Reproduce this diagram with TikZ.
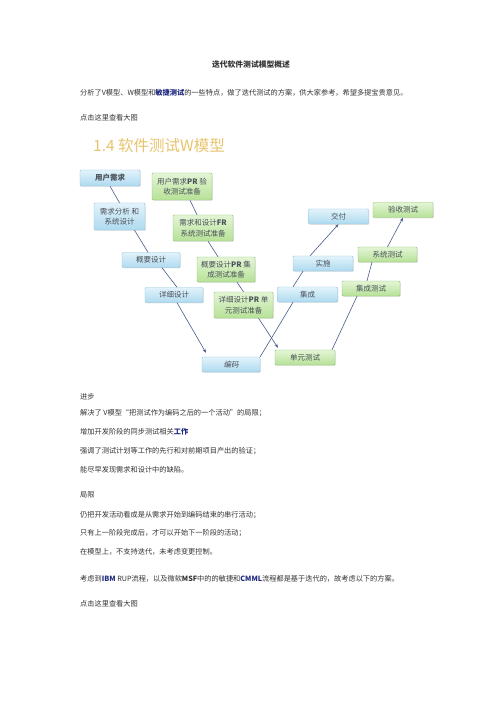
\documentclass[tikz,border=0pt]{standalone}
\usepackage{fontspec}
\newfontfamily\cjk{Noto Sans CJK SC}
\newfontfamily\cjkslant[FakeSlant=0.2]{Noto Sans CJK SC}
\usetikzlibrary{arrows.meta,shadows}
\definecolor{linec}{HTML}{4A5C8C}
\definecolor{navyc}{HTML}{1F2A80}
\definecolor{goldc}{HTML}{E8C46E}
\definecolor{bluetop}{HTML}{E2F3FB}
\definecolor{bluebot}{HTML}{AEDAEF}
\definecolor{blueedge}{HTML}{8CC4DF}
\definecolor{greentop}{HTML}{E4F5D6}
\definecolor{greenbot}{HTML}{B6E197}
\definecolor{greenedge}{HTML}{8BC56A}
\definecolor{boxtext}{HTML}{4A5058}

\begin{document}
\begin{tikzpicture}[
    x=1pt, y=-1pt,
    bbox/.style={draw=blueedge, rounded corners=1pt, minimum width=58pt, minimum height=15pt, inner sep=0.5pt, align=center,
        top color=bluetop, bottom color=bluebot, text=boxtext, font={\cjk\fontsize{7.5}{10.5}\selectfont},
        drop shadow={opacity=0.2, shadow xshift=0.8pt, shadow yshift=-0.8pt}},
    gbox/.style={bbox, draw=greenedge, top color=greentop, bottom color=greenbot},
    ln/.style={draw=linec, line width=0.6pt},
    arr/.style={ln, -{Stealth[length=4pt, width=3pt]}},
    txt/.style={anchor=west, inner sep=0pt, text=black!80, font={\cjk\fontsize{7.2}{9}\selectfont}}
]
\fill[white] (0,0) rectangle (500,708);

% page text, top
\node[txt, anchor=center, font={\cjk\bfseries\fontsize{7.8}{9}\selectfont}] (title) at (251,65) {迭代软件测试模型概述};
\node[txt] (intro) at (80,93) {分析了V模型、W模型和\textcolor{navyc}{\textbf{敏捷测试}}的一些特点，做了迭代测试的方案，供大家参考，希望多提宝贵意见。};
\node[txt] (link1) at (80,118) {点击这里查看大图};
\node[txt, text=goldc, font={\cjk\fontsize{15.5}{17}\selectfont}] (head) at (93,146) {1.4 软件测试W模型};

% development side
\node[bbox, minimum width=60pt, minimum height=16pt] (yhxq) at (110,178) {\textbf{用户需求}};
\node[bbox, minimum width=51pt, minimum height=27pt] (xqfx) at (119.5,216.5) {需求分析\ 和\\系统设计};
\node[bbox] (gysj) at (151,260) {概要设计};
\node[bbox] (xxsj) at (174,295) {详细设计};
\node[bbox] (bm) at (231,364.5) {\cjkslant 编码};
\node[bbox, minimum width=60pt] (jc) at (307.5,294.5) {集成};
\node[bbox, minimum width=60pt] (ss) at (323,263.5) {实施};
\node[bbox, minimum width=60pt] (jf) at (338.5,216.5) {交付};

% test side
\node[gbox, minimum width=60pt, minimum height=27pt] (yszb) at (182,186.5) {用户需求\textbf{PR} 验\\收测试准备};
\node[gbox, minimum width=60pt, minimum height=26pt] (xtzb) at (203,228) {需求和设计\textbf{FR}\\系统测试准备};
\node[gbox, minimum height=25pt] (jczb) at (226,269.5) {概要设计\textbf{PR} 集\\成测试准备};
\node[gbox, minimum width=59pt, minimum height=26pt] (dyzb) at (243.5,305) {详细设计\textbf{PR} 单\\元测试准备};
\node[gbox, minimum width=60pt] (dycs) at (305,357.5) {单元测试};
\node[gbox] (jccs) at (371,288.5) {集成测试};
\node[gbox, minimum width=59pt] (xtcs) at (387.5,254.5) {系统测试};
\node[gbox, minimum width=60pt] (yscs) at (403,210) {验收测试};

% left chains
\draw[ln] (yhxq.south) -- (xqfx.north);
\draw[ln] ([xshift=15pt]xqfx.south) -- ([xshift=-3pt]gysj.north);
\draw[ln] ([xshift=11pt]gysj.south) -- ([xshift=3pt]xxsj.north);
\draw[arr] ([xshift=3pt]xxsj.south) -- ([xshift=-25pt,yshift=4pt]bm.north);
\draw[ln] ([xshift=8pt]yszb.south) -- ([xshift=-6pt]xtzb.north);
\draw[ln] ([xshift=5pt]xtzb.south) -- ([xshift=-8pt]jczb.north);
\draw[ln] ([xshift=11pt]jczb.south) -- (dyzb.north);
\draw[arr] ([xshift=15pt]dyzb.south) -- ([xshift=-27pt,yshift=2pt]dycs.north);

% right chains
\draw[ln] (bm.north east) -- ([xshift=-14.5pt]jc.south);
\draw[ln] ([xshift=-14.5pt]jc.north) -- ([xshift=-20pt]ss.south);
\draw[arr] ([xshift=-13pt]ss.north) -- (jf.south);
\draw[ln] ([xshift=27pt]dycs.north) -- ([xshift=-14pt]jccs.south);
\draw[ln] ([xshift=-4pt]jccs.north) -- ([xshift=-15.5pt]xtcs.south);
\draw[arr] (xtcs.north) -- (yscs.south);

% page text, bottom
\node[txt] (gain) at (80,397) {进步};
\node[txt] (gain1) at (80,413) {解决了 V模型“把测试作为编码之后的一个活动”的局限；};
\node[txt] (gain2) at (80,432) {增加开发阶段的同步测试相关\textcolor{navyc}{\textbf{工作}}};
\node[txt] (gain3) at (80,451) {强调了测试计划等工作的先行和对前期项目产出的验证；};
\node[txt] (gain4) at (80,470) {能尽早发现需求和设计中的缺陷。};
\node[txt] (limit) at (80,495) {局限};
\node[txt] (limit1) at (80,515) {仍把开发活动看成是从需求开始到编码结束的串行活动；};
\node[txt] (limit2) at (80,533) {只有上一阶段完成后，才可以开始下一阶段的活动；};
\node[txt] (limit3) at (80,552) {在模型上，不支持迭代，未考虑变更控制。};
\node[txt] (plan) at (80,579) {考虑到\textcolor{navyc}{\textbf{IBM}} RUP流程，以及微软\textbf{MSF}中的的敏捷和\textcolor{navyc}{\textbf{CMML}}流程都是基于迭代的，故考虑以下的方案。};
\node[txt] (link2) at (80,604) {点击这里查看大图};
\end{tikzpicture}
\end{document}
